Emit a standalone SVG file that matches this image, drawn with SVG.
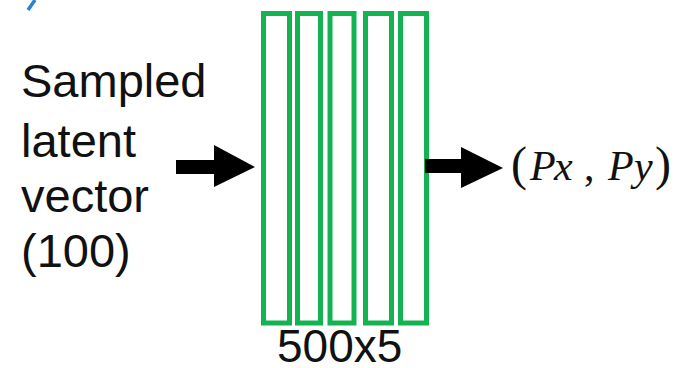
<svg xmlns="http://www.w3.org/2000/svg" width="674" height="368" viewBox="0 0 674 368">
  <style>
    .sans { font-family: "Liberation Sans", Arial, sans-serif; font-size: 47px; fill: #111; }
    .math { font-family: "Liberation Serif", "Times New Roman", serif; font-size: 42px; fill: #111; }
    .par { font-size: 48px; }
    .it { font-style: italic; }
    .layer { fill: #ffffff; stroke: #14b352; stroke-width: 5; }
    .arrow { fill: #000; stroke: none; }
  </style>
  <rect width="674" height="368" fill="#ffffff"/>
  <path d="M35,0 L28,10" stroke="#2a80d6" stroke-width="3.5" fill="none"/>
  <g id="input">
    <text class="sans" x="21" y="97">Sampled</text>
    <text class="sans" x="21" y="157">latent</text>
    <text class="sans" x="21" y="212">vector</text>
    <text class="sans" x="21" y="267">(100)</text>
  </g>
  <g id="layers">
    <rect class="layer" x="263.5" y="13.5" width="26" height="309.5"/>
    <rect class="layer" x="297.5" y="13.5" width="23" height="309.5"/>
    <rect class="layer" x="330" y="13.5" width="24" height="309.5"/>
    <rect class="layer" x="365.5" y="13.5" width="26" height="309.5"/>
    <rect class="layer" x="400.5" y="13.5" width="26" height="309.5"/>
  </g>
  <g id="layers-label">
    <text class="sans" x="277" y="362" style="font-size:46px">500x5</text>
  </g>
  <g id="output">
    <text class="math" y="180"><tspan class="par" x="511">(</tspan><tspan class="it" x="530">P</tspan><tspan class="it" x="554">x</tspan><tspan x="584">,</tspan><tspan class="it" x="608">P</tspan><tspan class="it" x="634">y</tspan><tspan class="par" x="655">)</tspan></text>
  </g>
  <g id="connectors">
    <path class="arrow" d="M176,160 L214,160 L214,145 L255,167 L214,187 L214,174 L176,174 Z"/>
    <path class="arrow" d="M425,159 L461,159 L461,147 L503,168 L461,188 L461,173 L425,173 Z"/>
  </g>
</svg>
